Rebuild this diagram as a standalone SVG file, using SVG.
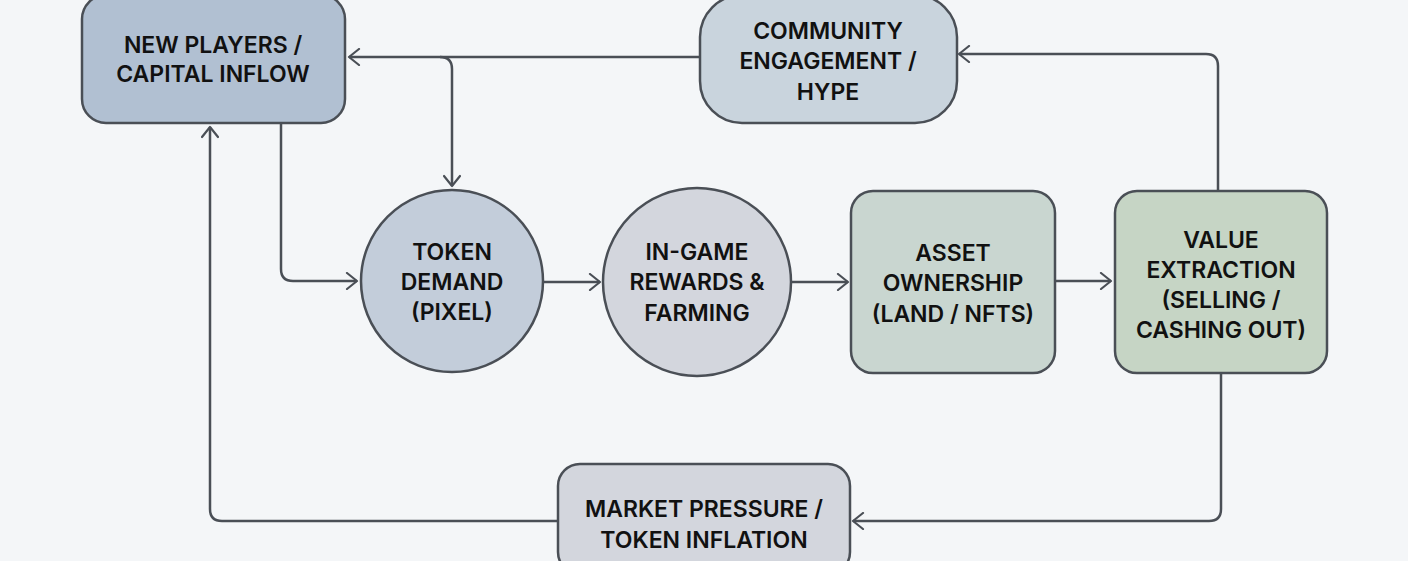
<svg xmlns="http://www.w3.org/2000/svg" width="1408" height="561" viewBox="0 0 1408 561">
<defs>
<marker id="arr" markerUnits="userSpaceOnUse" markerWidth="14" markerHeight="18" refX="12" refY="9" orient="auto">
<path d="M2,1 L12,9 L2,17" fill="none" stroke="#4a4f56" stroke-width="2.2" stroke-linecap="round" stroke-linejoin="round"/>
</marker>
</defs>
<style>
.bg{fill:#f4f6f8}
.n{stroke:#4a4f56;stroke-width:2.5}
.t{font-family:Inter,"Liberation Sans",sans-serif;font-size:23px;font-weight:600;fill:#111111;text-anchor:middle}
.c{fill:none;stroke:#4a4f56;stroke-width:2.5;marker-end:url(#arr)}
</style>
<rect class="bg" x="0" y="0" width="1408" height="561"/>
<g id="connectors">
<path class="c" d="M700,57 L349,57"/>
<path class="c" d="M440,57 Q452,57 452,69 L452,186"/>
<path class="c" d="M281,123 L281,269 Q281,281 293,281 L357,281"/>
<path class="c" d="M543,282 L600,282"/>
<path class="c" d="M791,282 L848,282"/>
<path class="c" d="M1055,281 L1111,281"/>
<path class="c" d="M1218,191 L1218,66 Q1218,54 1206,54 L959,54"/>
<path class="c" d="M1221,373 L1221,509 Q1221,521 1209,521 L853,521"/>
<path class="c" d="M558,521 L222,521 Q210,521 210,509 L210,127"/>
</g>
<g id="new-players">
<rect class="n" x="82" y="-5" width="263" height="128" rx="24" fill="#b1c0d2"/>
<text class="t" x="213" y="53">NEW PLAYERS /</text>
<text class="t" x="213" y="82">CAPITAL INFLOW</text>
</g>
<g id="community">
<rect class="n" x="700" y="-5" width="257" height="128" rx="42" fill="#c9d4dd"/>
<text class="t" x="828" y="39">COMMUNITY</text>
<text class="t" x="828" y="69">ENGAGEMENT /</text>
<text class="t" x="828" y="100">HYPE</text>
</g>
<g id="token-demand">
<circle class="n" cx="452" cy="281" r="91" fill="#c3cdda"/>
<text class="t" x="452" y="260">TOKEN</text>
<text class="t" x="452" y="290">DEMAND</text>
<text class="t" x="452" y="320">(PIXEL)</text>
</g>
<g id="in-game">
<circle class="n" cx="697" cy="282" r="94" fill="#d3d6dd"/>
<text class="t" x="697" y="260">IN-GAME</text>
<text class="t" x="697" y="290">REWARDS &amp;</text>
<text class="t" x="697" y="321">FARMING</text>
</g>
<g id="asset">
<rect class="n" x="851" y="191" width="204" height="182" rx="22" fill="#c9d6d0"/>
<text class="t" x="953" y="261">ASSET</text>
<text class="t" x="953" y="291">OWNERSHIP</text>
<text class="t" x="953" y="322">(LAND / NFTS)</text>
</g>
<g id="value">
<rect class="n" x="1115" y="191" width="212" height="182" rx="22" fill="#c6d5c5"/>
<text class="t" x="1221" y="248">VALUE</text>
<text class="t" x="1221" y="278">EXTRACTION</text>
<text class="t" x="1221" y="308">(SELLING /</text>
<text class="t" x="1221" y="338">CASHING OUT)</text>
</g>
<g id="market">
<rect class="n" x="558" y="464" width="292" height="110" rx="22" fill="#d3d6dd"/>
<text class="t" x="704" y="517">MARKET PRESSURE /</text>
<text class="t" x="704" y="548">TOKEN INFLATION</text>
</g>
</svg>
